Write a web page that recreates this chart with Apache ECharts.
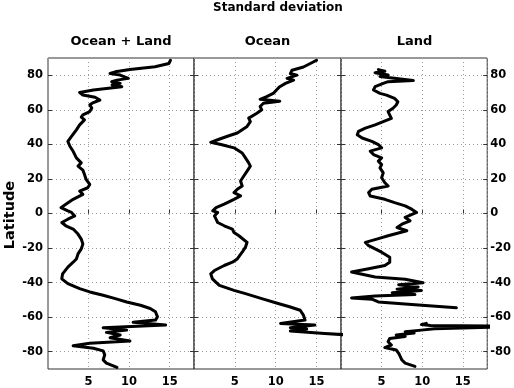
<!DOCTYPE html>
<html>
<head>
<meta charset="utf-8">
<script src="https://cdn.jsdelivr.net/npm/echarts@6/dist/echarts.min.js"></script>
<style>html,body{margin:0;padding:0;background:#fff}#c{width:514px;height:388px}</style>
</head>
<body>
<div id="c"></div>
<script>
// ---- Data (value = standard deviation, lat = latitude) ----
var panelTitles = ['Ocean + Land', 'Ocean', 'Land'];
var mainTitle = 'Standard deviation';
var yName = 'Latitude';
var xTicks = [5, 10, 15];
var yTicks = [-80, -60, -40, -20, 0, 20, 40, 60, 80];

var latOL = [88.7, 86.8, 84.9, 83.4, 82.0, 81.0, 80.1, 78.2, 77.2, 76.3, 75.3, 74.4, 73.4, 72.4, 71.5, 70.0, 68.6, 67.3, 65.7, 64.2, 62.9, 61.0, 59.0, 57.1, 55.8, 54.2, 51.3, 48.4, 44.6, 41.7, 38.9, 36.0, 32.2, 29.3, 27.4, 25.1, 22.6, 19.7, 16.8, 14.9, 13.0, 11.1, 8.2, 5.4, 3.4, 1.5, 0.6, -1.4, -3.3, -5.2, -7.1, -9.0, -11.9, -14.8, -17.6, -20.5, -23.4, -26.3, -28.2, -31.0, -34.9, -37.8, -40.6, -43.5, -45.4, -47.3, -49.3, -51.2, -53.1, -55.0, -56.9, -59.8, -61.7, -63.0, -64.6, -66.1, -67.5, -68.8, -70.3, -71.9, -73.8, -75.1, -76.5, -78.0, -79.5, -81.8, -84.7, -86.6, -89.1];
var valOL = [15.1, 14.9, 13.2, 10.1, 8.3, 7.65, 8.9, 9.9, 8.5, 7.85, 8.9, 7.9, 9.1, 7.2, 5.6, 3.9, 4.3, 5.8, 6.4, 5.6, 5.15, 5.4, 5.15, 4.3, 4.1, 4.5, 3.9, 3.5, 2.9, 2.45, 2.7, 3.1, 3.5, 4.1, 3.7, 4.3, 4.5, 4.7, 5.15, 4.9, 3.9, 4.3, 3.1, 2.2, 1.6, 2.45, 2.9, 3.3, 2.45, 1.7, 2.2, 3.1, 3.7, 4.1, 4.3, 4.1, 3.7, 3.5, 3.1, 2.45, 1.8, 1.7, 2.45, 3.9, 5.15, 6.8, 8.3, 9.7, 11.4, 12.6, 13.25, 13.5, 13.25, 10.5, 14.5, 6.8, 9.7, 7.2, 8.9, 7.65, 10.1, 5.15, 3.1, 5.6, 6.8, 7.0, 6.8, 7.2, 8.5];

var latO = [88.7, 87.7, 84.8, 82.9, 81.0, 80.1, 78.2, 77.2, 75.3, 73.4, 71.5, 69.5, 67.6, 66.1, 65.0, 63.8, 61.9, 60.0, 58.0, 55.2, 53.2, 50.4, 46.6, 44.7, 42.7, 41.2, 39.9, 38.0, 35.0, 32.2, 29.3, 27.4, 24.5, 21.7, 18.8, 15.9, 14.0, 12.1, 10.2, 8.2, 5.4, 3.4, 1.5, 0.6, -1.4, -3.3, -5.2, -7.1, -9.0, -11.0, -12.9, -16.7, -19.5, -22.4, -26.3, -28.2, -30.1, -33.0, -34.9, -37.8, -41.6, -44.5, -46.4, -49.3, -52.1, -54.1, -56.0, -58.8, -61.7, -63.6, -64.6, -66.1, -66.9, -68.0, -69.4, -70.5];
var valO = [15.0, 14.6, 13.4, 12.0, 11.8, 12.6, 11.4, 12.2, 11.2, 10.5, 10.1, 9.7, 8.9, 8.1, 10.5, 8.5, 8.1, 8.3, 7.7, 6.7, 6.9, 6.5, 5.3, 4.1, 2.9, 2.05, 3.3, 4.9, 5.9, 6.3, 6.7, 6.9, 6.5, 6.1, 5.7, 5.9, 5.3, 4.9, 5.7, 4.9, 3.7, 2.7, 2.3, 2.9, 2.5, 2.7, 2.9, 3.7, 4.7, 4.9, 5.5, 6.5, 6.3, 5.9, 5.3, 4.7, 3.7, 2.5, 2.05, 2.25, 3.1, 4.9, 6.3, 8.3, 10.3, 11.8, 13.0, 13.4, 13.6, 10.6, 14.8, 11.8, 13.8, 11.8, 16.0, 19.5];

// '-' marks the gap where there is no land (about 56S to 63S)
var latL = [83.3, 82.3, 81.5, 80.2, 79.3, 78.2, 77.0, 76.3, 75.3, 73.4, 71.5, 69.5, 68.5, 66.6, 64.7, 62.8, 60.9, 59.0, 57.0, 55.1, 53.2, 51.3, 49.4, 47.5, 45.6, 43.7, 41.7, 39.9, 38.0, 36.1, 34.1, 32.2, 30.3, 28.3, 26.4, 23.5, 20.7, 17.8, 15.9, 14.0, 12.1, 10.1, 8.2, 6.3, 4.4, 2.5, 0.6, -0.4, -2.3, -4.2, -6.2, -8.1, -10.0, -11.0, -12.9, -14.8, -16.7, -18.6, -20.5, -22.4, -25.3, -28.2, -30.1, -32.0, -33.9, -34.8, -36.8, -38.1, -40.1, -41.2, -42.5, -43.8, -44.5, -45.8, -46.9, -47.7, -48.9, -49.6, -51.2, -52.7, -54.6, -58.0, -63.6, -64.3, -64.8, -65.3, -66.2, -66.7, -67.5, -68.4, -69.2, -70.3, -71.2, -72.3, -74.2, -76.1, -77.6, -79.0, -80.9, -82.8, -84.8, -86.6, -88.5];
var valL = [4.6, 5.4, 4.2, 5.8, 4.8, 6.8, 8.9, 5.8, 5.2, 4.2, 4.0, 4.8, 5.6, 6.6, 7.0, 6.8, 6.4, 5.8, 6.0, 6.2, 5.2, 4.2, 3.0, 2.15, 2.0, 2.6, 3.8, 4.6, 5.0, 3.6, 4.0, 5.0, 4.6, 5.0, 4.8, 5.2, 5.0, 5.4, 5.8, 3.8, 3.4, 3.6, 5.4, 6.6, 7.9, 8.7, 9.3, 9.5, 7.9, 8.5, 7.5, 6.9, 8.1, 7.9, 5.8, 4.4, 3.0, 3.4, 4.2, 5.0, 6.0, 6.0, 5.4, 3.4, 1.3, 1.5, 4.2, 7.9, 10.1, 7.1, 9.5, 6.9, 9.9, 6.3, 9.1, 4.2, 1.3, 3.8, 4.6, 8.7, 14.2, '-', 10.5, 9.9, 11.0, 22.0, 22.0, 11.5, 9.9, 7.9, 9.0, 6.8, 7.9, 6.0, 5.8, 6.2, 5.4, 6.8, 7.1, 7.3, 7.5, 7.9, 9.1];

// ---- Build chart ----
var FONT = 'DejaVu Sans';
var seriesVals = [valOL, valO, valL];
var seriesLats = [latOL, latO, latL];
var grids = [
  {left: 48, top: 58, width: 146, height: 313},
  {left: 194, top: 58, width: 147, height: 313},
  {left: 341, top: 58, width: 147, height: 313}
];
var gridOpts = [], xAxes = [], yAxes = [], series = [], graphics = [];
var tickLabelStyle = {color: '#000', fontFamily: FONT, fontWeight: 'bold', fontSize: 11.5};

grids.forEach(function (g, i) {
  gridOpts.push({left: g.left, top: g.top, width: g.width, height: g.height,
    show: true, borderColor: '#333', borderWidth: 1, backgroundColor: 'transparent', containLabel: false});
  xAxes.push({
    gridIndex: i, type: 'value', min: 0, max: 18, interval: 5, position: 'bottom',
    axisLine: {show: false},
    axisTick: {show: true, inside: true, length: 4, lineStyle: {color: '#333'}},
    axisLabel: Object.assign({show: true, margin: 7, showMinLabel: false, showMaxLabel: false,
      formatter: function (v) { return xTicks.indexOf(v) >= 0 ? String(v) : ''; }}, tickLabelStyle),
    splitLine: {show: true, lineStyle: {color: '#9a9a9a', width: 1, type: [1, 3]}}
  });
  yAxes.push({
    gridIndex: i, type: 'value', min: -90, max: 90, position: 'left',
    axisLine: {show: false},
    axisTick: {show: true, inside: true, length: 4, customValues: yTicks, lineStyle: {color: '#333'}},
    axisLabel: Object.assign({show: i === 0, margin: 5, customValues: yTicks}, tickLabelStyle),
    splitLine: {show: true, lineStyle: {color: '#9a9a9a', width: 1, type: [1, 3]}}
  });
  yAxes.push({
    gridIndex: i, type: 'value', min: -90, max: 90, position: 'right',
    axisLine: {show: false},
    axisTick: {show: true, inside: true, length: 4, customValues: yTicks, lineStyle: {color: '#333'}},
    axisLabel: Object.assign({show: i === 2, margin: 3, customValues: yTicks}, tickLabelStyle),
    splitLine: {show: false}
  });
  var data = seriesVals[i].map(function (v, k) { return [v, seriesLats[i][k]]; });
  series.push({
    type: 'line', xAxisIndex: i, yAxisIndex: i * 2, data: data,
    showSymbol: false, symbol: 'none', connectNulls: false, clip: true, animation: false,
    lineStyle: {color: '#000', width: 3, join: 'round', cap: 'round'}
  });
  graphics.push({
    type: 'text', x: g.left + g.width / 2, y: 42,
    style: {text: panelTitles[i], fill: '#000', font: 'bold 13px "DejaVu Sans"', textAlign: 'center', textVerticalAlign: 'middle'}
  });
});

graphics.push({
  type: 'text', x: 278, y: 8,
  style: {text: mainTitle, fill: '#000', font: 'bold 12px "DejaVu Sans"', textAlign: 'center', textVerticalAlign: 'middle'}
});
graphics.push({
  type: 'text', x: 10, y: 215, rotation: Math.PI / 2,
  style: {text: yName, fill: '#000', font: 'bold 14.5px "DejaVu Sans"', textAlign: 'center', textVerticalAlign: 'middle'}
});

var chart = echarts.init(document.getElementById('c'), null, {renderer: 'canvas'});
chart.setOption({
  animation: false,
  backgroundColor: '#fff',
  grid: gridOpts,
  xAxis: xAxes,
  yAxis: yAxes,
  series: series,
  graphic: graphics
});
</script>
</body>
</html>
